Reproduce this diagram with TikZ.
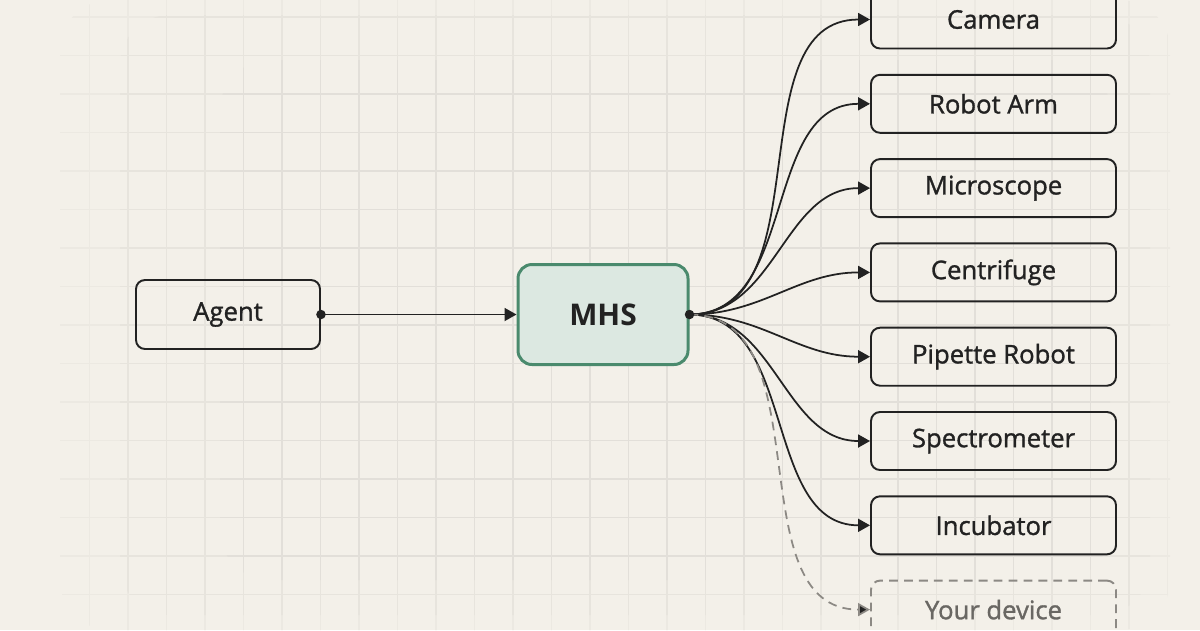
\documentclass[tikz,border=0pt]{standalone}
\usepackage{fontspec}
\setmainfont{Open Sans}
\newfontfamily\labelfont{Open Sans}[FakeBold=1.2]
\usetikzlibrary{positioning, arrows.meta}

\definecolor{paper}{HTML}{F3F0E9}
\definecolor{ink}{HTML}{222222}
\definecolor{hubfill}{HTML}{DCE8E1}
\definecolor{hubline}{HTML}{4A8A6D}
\definecolor{ghost}{HTML}{8C8984}

\begin{document}
\begin{tikzpicture}[node distance=1.686cm, on grid,
    box/.style={draw=ink, line width=1.1pt, rounded corners=0.18cm, text=ink, inner sep=0pt},
    agentbox/.style={box, minimum width=3.68cm, minimum height=1.38cm, font=\labelfont\fontsize{14.6}{17}\selectfont},
    hub/.style={draw=hubline, fill=hubfill, line width=1.7pt, rounded corners=0.28cm, text=ink,
      minimum width=3.4cm, minimum height=2cm, inner sep=0pt, font=\fontsize{17}{20}\selectfont\bfseries},
    dev/.style={box, minimum width=4.9cm, minimum height=1.16cm, font=\labelfont\fontsize{14.6}{17}\selectfont},
    newdev/.style={dev, draw=ghost, dash pattern=on 5pt off 3.5pt, text=ghost!75!black},
    link/.style={draw=ink, line width=1pt, -{Triangle[length=0.24cm, width=0.26cm]}},
    newlink/.style={link, draw=ghost, dash pattern=on 5pt off 3.5pt, -{Triangle[length=0.24cm, width=0.26cm, fill=ink]}}]
  \useasboundingbox (0,0) rectangle (24,-12.6);
  \fill[paper] (0,0) rectangle (24,-12.6);
  % faint grid, stronger towards the middle
  \foreach \x/\y/\X/\Y/\c in {1.2/0/23.4/-12.6/3, 2.4/-0.3/23/-12.3/5, 4.4/-1.2/22.2/-11.6/7} {
    \begin{scope}
      \clip[rounded corners=1cm] (\x,\y) rectangle (\X,\Y);
      \draw[black!\c!paper, line width=0.8pt, xshift=0.25cm, yshift=-0.34cm] (-0.77,0.77) grid[step=0.77cm] (24,-13);
    \end{scope}
  }

  \node[agentbox] (agent) at (4.56,-6.29) {Agent};
  \node[hub, right=7.5cm of agent] (mhs) {MHS};

  \node[dev] (camera) at ([shift={(7.81,5.9)}]mhs) {Camera};
  \node[dev, below=of camera] (arm) {Robot Arm};
  \node[dev, below=of arm] (microscope) {Microscope};
  \node[dev, below=of microscope] (centrifuge) {Centrifuge};
  \node[dev, below=of centrifuge] (pipette) {Pipette Robot};
  \node[dev, below=of pipette] (spectro) {Spectrometer};
  \node[dev, below=of spectro] (incubator) {Incubator};
  \node[newdev, below=of incubator] (yours) {Your device};

  \draw[link] (agent.east) -- (mhs.west);
  \foreach \dev in {camera, arm, microscope, centrifuge, pipette, spectro, incubator}
    \draw[link] (mhs.east) to[out=0, in=180] (\dev.west);
  \draw[newlink] (mhs.east) to[out=0, in=180] (yours.west);

  \fill[ink] (agent.east) circle (0.095);
  \fill[ink] (mhs.east) circle (0.095);
\end{tikzpicture}
\end{document}
